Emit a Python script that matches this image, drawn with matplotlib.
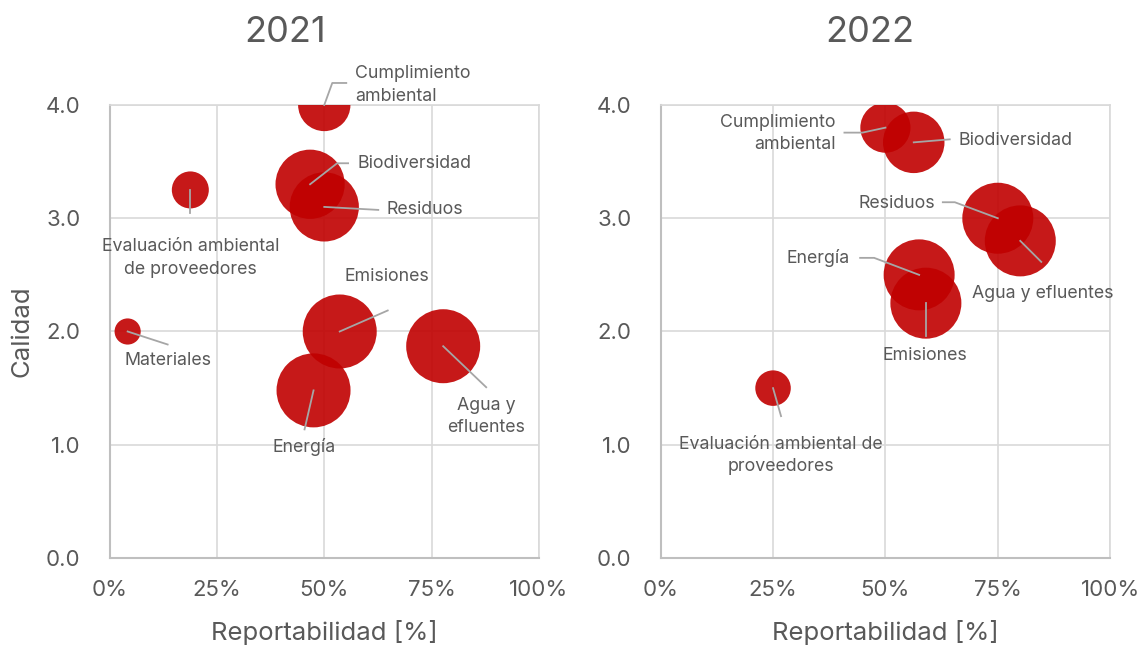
import matplotlib
matplotlib.use('Agg')
import matplotlib.pyplot as plt
import matplotlib.transforms as mtransforms
from matplotlib.ticker import PercentFormatter, FormatStrFormatter

plt.rcParams['font.family'] = ['Inter', 'DejaVu Sans']

# 2021 data: reportabilidad (%), calidad, bubble size
labels_2021 = ['Cumplimiento\nambiental', 'Biodiversidad', 'Residuos',
               'Evaluación ambiental\nde proveedores', 'Materiales',
               'Emisiones', 'Energía', 'Agua y\nefluentes']
rep_2021 = [50.0, 46.7, 50.0, 18.8, 4.2, 53.6, 47.5, 77.7]
cal_2021 = [4.0, 3.3, 3.1, 3.25, 2.0, 2.0, 1.48, 1.87]
size_2021 = [4, 7, 7, 2, 1, 8, 8, 8]

# 2022 data
labels_2022 = ['Cumplimiento\nambiental', 'Biodiversidad', 'Residuos',
               'Agua y efluentes', 'Energía', 'Emisiones',
               'Evaluación ambiental de\nproveedores']
rep_2022 = [50.0, 56.3, 75.0, 80.0, 57.5, 59.0, 25.0]
cal_2022 = [3.8, 3.67, 3.0, 2.8, 2.5, 2.25, 1.5]
size_2022 = [4, 6, 8, 8, 8, 8, 2]

# label layout (pixel offsets from bubble centre): leader polyline, text pos, alignment
layout_2021 = [
    ([(0, 0), (8, 22), (22, 22)], (31, 20), 'left'),
    ([(0, 0), (27, 21), (38, 21)], (47, 21), 'left'),
    ([(0, 0), (54, -3)], (62, -3), 'left'),
    ([(0, 0), (0, -23)], (0, -68), 'center'),
    ([(0, 0), (40, -13)], (40, -29), 'center'),
    ([(0, 0), (48, 21)], (47, 55), 'center'),
    ([(0, 0), (-9, -39)], (-9, -57), 'center'),
    ([(0, 0), (43, -41)], (43, -70), 'center'),
]
layout_2022 = [
    ([(0, 0), (-23, -5), (-41, -5)], (-50, -6), 'right'),
    ([(0, 0), (36, 3)], (45, 2), 'left'),
    ([(0, 0), (-43, 16), (-55, 16)], (-63, 15), 'right'),
    ([(0, 0), (21, -21)], (22, -53), 'center'),
    ([(0, 0), (-45, 17), (-59, 17)], (-69, 17), 'right'),
    ([(0, 0), (0, -33)], (-1, -52), 'center'),
    ([(0, 0), (8, -28)], (8, -67), 'center'),
]

TXT = '#595959'
RED = '#C00000'

fig = plt.figure(figsize=(11.43, 6.46), dpi=100)
ax1 = fig.add_axes([0.0959, 0.1362, 0.3756, 0.7013])
ax2 = fig.add_axes([0.578, 0.1362, 0.3933, 0.7013])


def draw(ax, year, labels, rep, cal, size, layout, dmax_px, title_x):
    ax.set_xlim(0, 100)
    ax.set_ylim(0, 4)
    dmax_pt = dmax_px * 72 / 100
    s = [v / 8 * dmax_pt ** 2 for v in size]
    ax.scatter(rep, cal, s=s, color=RED, alpha=0.9, linewidths=0, zorder=3)
    for lab, x, y, (line, txt, ha) in zip(labels, rep, cal, layout):
        tr = mtransforms.ScaledTranslation(x, y, ax.transData)
        ax.plot([p[0] for p in line], [p[1] for p in line], transform=tr,
                color='#a6a6a6', lw=1.3, clip_on=False, zorder=4)
        ax.text(txt[0], txt[1], lab, transform=tr, ha=ha, va='center',
                multialignment=ha, fontsize=12.8, color=TXT, linespacing=1.4,
                zorder=5)
    ax.set_xticks([0, 25, 50, 75, 100])
    ax.set_yticks([0, 1, 2, 3, 4])
    ax.xaxis.set_major_formatter(PercentFormatter(100, decimals=0))
    ax.yaxis.set_major_formatter(FormatStrFormatter('%.1f'))
    ax.tick_params(length=0, labelsize=16, labelcolor=TXT)
    ax.tick_params(axis='x', pad=16)
    ax.tick_params(axis='y', pad=21)
    ax.grid(True, color='#d9d9d9', lw=1.2, zorder=0)
    ax.set_axisbelow(True)
    for side in ['top', 'right']:
        ax.spines[side].set_color('#d9d9d9')
        ax.spines[side].set_linewidth(1.2)
    for side in ['left', 'bottom']:
        ax.spines[side].set_color('#bfbfbf')
        ax.spines[side].set_linewidth(1.5)
    ax.set_xlabel('Reportabilidad [%]', fontsize=18.5, color=TXT, labelpad=14)
    ax.text(title_x, 1.16, year, transform=ax.transAxes, ha='center',
            va='center', fontsize=26, color=TXT)


draw(ax1, '2021', labels_2021, rep_2021, cal_2021, size_2021, layout_2021, 74, 0.409)
draw(ax2, '2022', labels_2022, rep_2022, cal_2022, size_2022, layout_2022, 71, 0.466)
ax1.set_ylabel('Calidad', fontsize=18.5, color=TXT, labelpad=9)

fig.savefig('out.png', dpi=100)
